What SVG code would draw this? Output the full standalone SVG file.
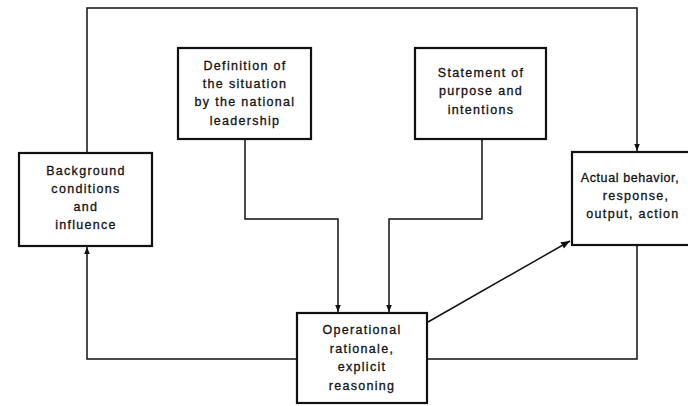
<svg xmlns="http://www.w3.org/2000/svg" width="688" height="406" viewBox="0 0 688 406">
<defs>
<style>
.box{fill:#fff;stroke:#111;stroke-width:2.2}
.ln{fill:none;stroke:#111;stroke-width:1.5}
.t{font-family:"Liberation Sans",Arial,sans-serif;font-size:12.5px;letter-spacing:1.3px;fill:#111;stroke:#111;stroke-width:0.3;text-anchor:middle}
</style>
<marker id="ah" viewBox="0 0 10 10" refX="10" refY="5" markerWidth="7" markerHeight="7" markerUnits="userSpaceOnUse" orient="auto">
<path d="M0,1 L10,5 L0,9 Z" fill="#111"/>
</marker>
<marker id="ah2" viewBox="0 0 10 10" refX="10" refY="5" markerWidth="9" markerHeight="9" markerUnits="userSpaceOnUse" orient="auto">
<path d="M0,1 L10,5 L0,9 Z" fill="#111"/>
</marker>
</defs>
<rect width="688" height="406" fill="#fff"/>
<g id="connectors">
<path class="ln" d="M87,153 V8 H637 V151" marker-end="url(#ah)"/>
<path class="ln" d="M245,140 V219 H338 V312" marker-end="url(#ah)"/>
<path class="ln" d="M482,140 V219 H389 V312" marker-end="url(#ah)"/>
<path class="ln" d="M297,359 H87 V247" marker-end="url(#ah)"/>
<path class="ln" d="M637,246 V359 H427"/>
<path class="ln" d="M428,322 L570,241" marker-end="url(#ah2)"/>
</g>
<g id="definition">
<rect class="box" x="178" y="48" width="133" height="91"/>
<text class="t" x="245" y="70">Definition of</text>
<text class="t" x="245" y="88">the situation</text>
<text class="t" x="245" y="106">by the national</text>
<text class="t" x="245" y="125">leadership</text>
</g>
<g id="statement">
<rect class="box" x="415" y="48" width="131" height="91"/>
<text class="t" x="481" y="77">Statement of</text>
<text class="t" x="481" y="95">purpose and</text>
<text class="t" x="481" y="114">intentions</text>
</g>
<g id="background">
<rect class="box" x="19" y="153" width="133" height="93"/>
<text class="t" x="86" y="175">Background</text>
<text class="t" x="86" y="193">conditions</text>
<text class="t" x="86" y="211">and</text>
<text class="t" x="86" y="229">influence</text>
</g>
<g id="actual">
<rect class="box" x="572" y="152" width="132" height="93"/>
<text class="t" x="630" y="182" style="letter-spacing:0.6px">Actual behavior,</text>
<text class="t" x="636" y="200">response,</text>
<text class="t" x="633" y="218">output, action</text>
</g>
<g id="operational">
<rect class="box" x="297" y="313" width="130" height="90"/>
<text class="t" x="362" y="334">Operational</text>
<text class="t" x="362" y="353">rationale,</text>
<text class="t" x="362" y="371">explicit</text>
<text class="t" x="362" y="390">reasoning</text>
</g>
</svg>
